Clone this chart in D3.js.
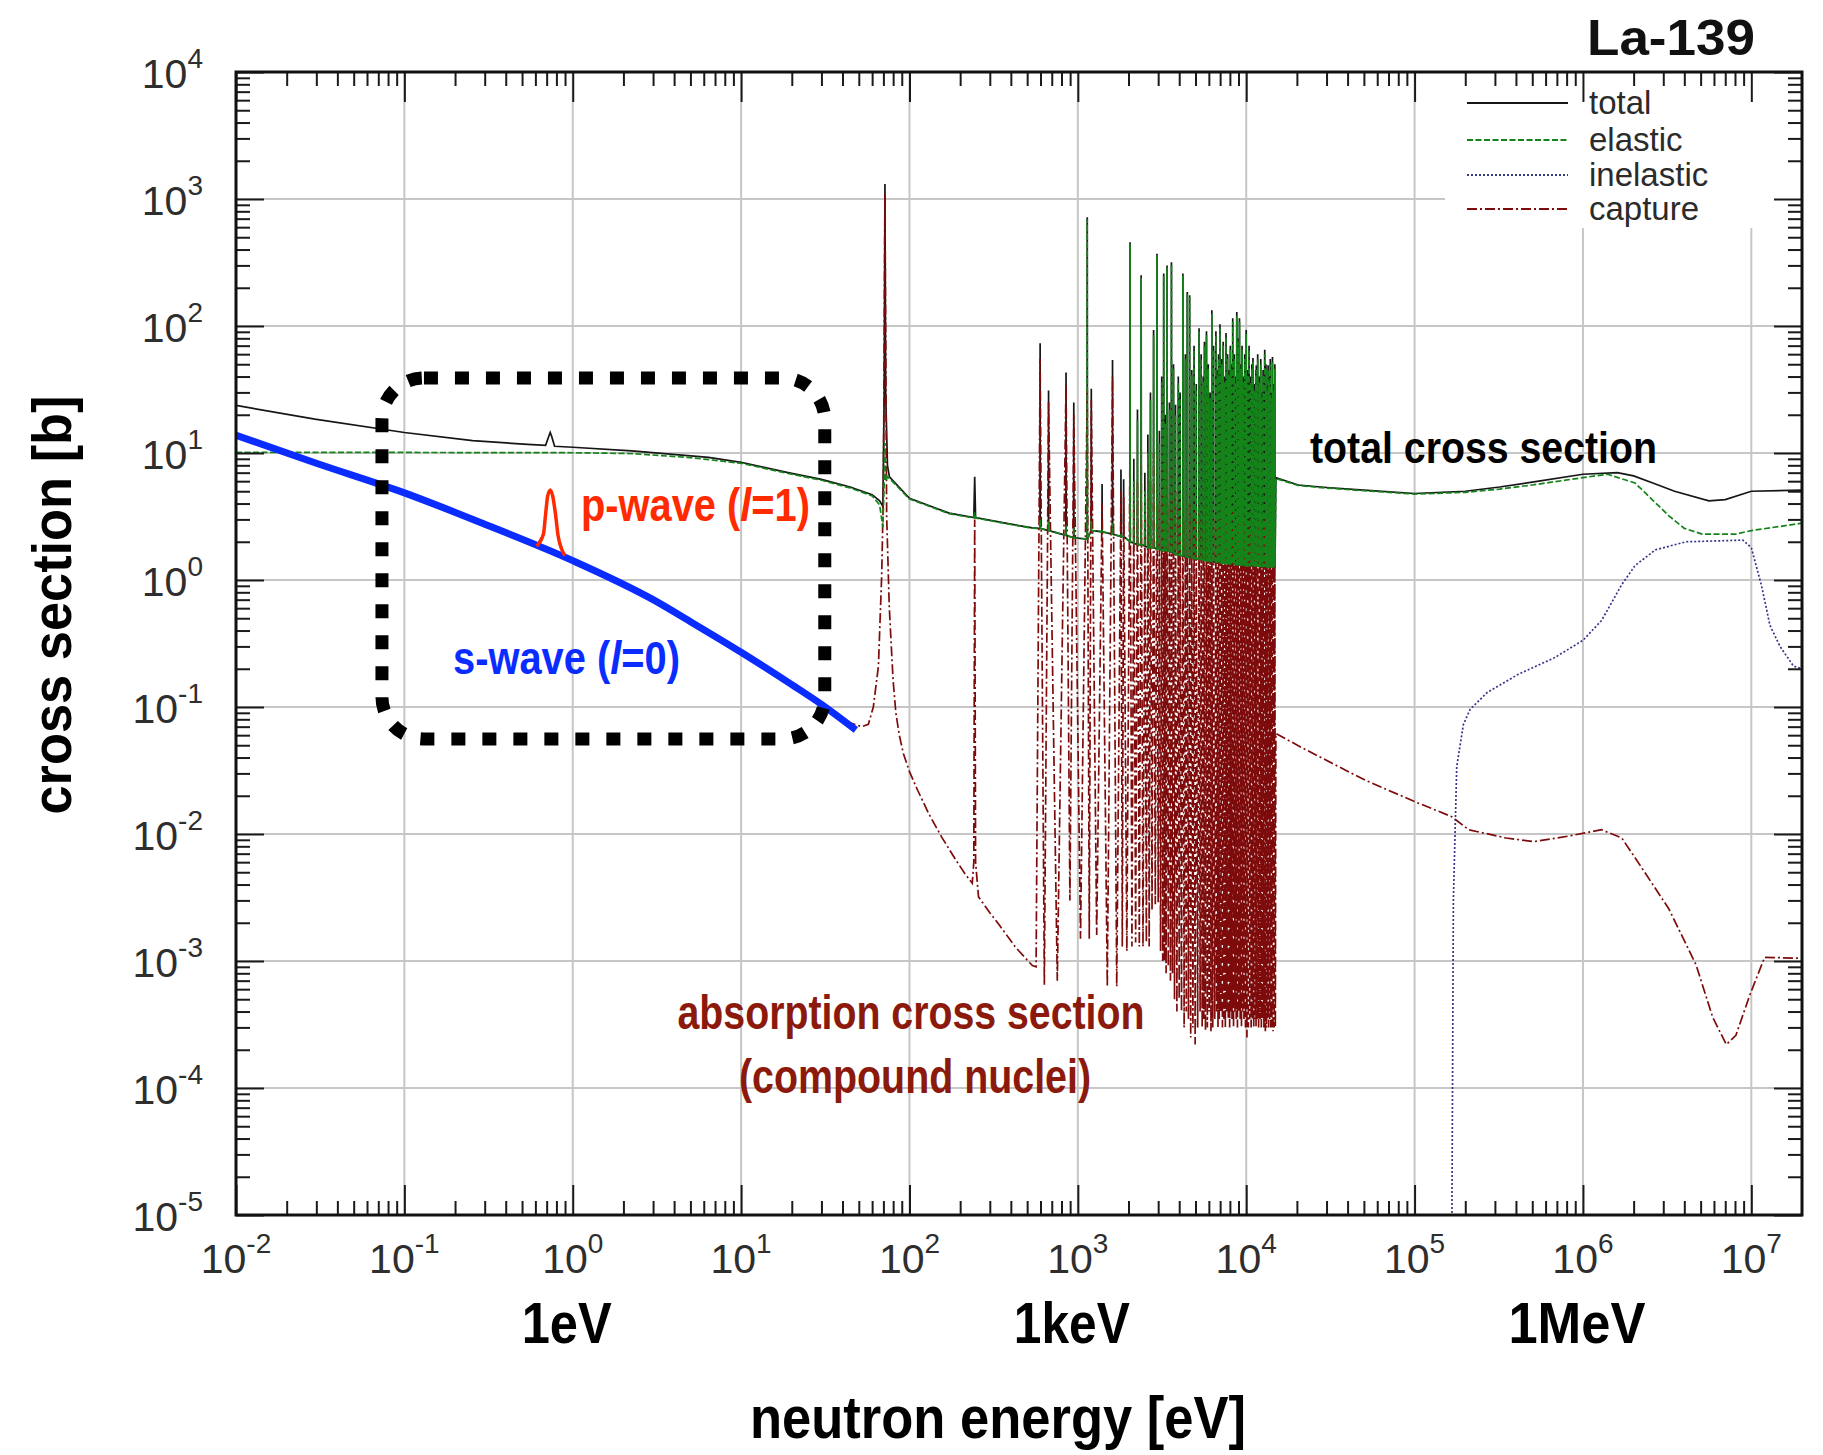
<!DOCTYPE html>
<html>
<head>
<meta charset="utf-8">
<title>La-139 cross sections</title>
<script src="https://cdn.jsdelivr.net/npm/d3@7"></script>
<style>
  body { margin: 0; background: #fff; }
  svg { display: block; font-family: "Liberation Sans", Arial, Helvetica, sans-serif; }
</style>
</head>
<body>
<svg width="1823" height="1455"></svg>
<script>
// values: energy in eV, cross section in barn
const xDecades = [-2, -1, 0, 1, 2, 3, 4, 5, 6, 7];
const yDecades = [-5, -4, -3, -2, -1, 0, 1, 2, 3, 4];
const energyNames = ['1eV', '1keV', '1MeV'];
const energyNameValues = [1, 1e3, 1e6];
const legendNames = ['total', 'elastic', 'inelastic', 'capture'];

// smooth parts below the resolved resonances (incl. 0.73 eV p-wave, 72 eV and 244 eV levels)
const totalLow = [[0.01,23.7],[0.0294,18.5],[0.1,14.5],[0.254,12.5],[0.54,11.7],[0.69,11.5],[0.72,13.5],[0.735,14.5],[0.75,13.5],[0.78,11.3],
  [1,11.1],[2.24,10.4],[6.4,9.25],[10,8.45],[19,7.0],[30,6.2],[44.4,5.4],[60,4.7],[66.5,4.2],[69.5,3.8],[70.8,30],[71.5,1310],[72.2,30],
  [74,8],[76,6.5],[100,4.4],[172,3.36],[241,3.1],[244,6.5],[247,3.1],[400,2.75],[537,2.57],[590,2.55]];
const elasticLow = [[0.01,10.1],[0.1,10.1],[1,10.05],[2.24,9.9],[5,9.2],[10,8.3],[19,6.9],[30,6.1],[44.4,5.3],[60,4.6],[66.5,3.9],
  [69.5,2.6],[70.8,6],[71.5,12],[72.2,6],[74,6.5],[76,6.3],[100,4.35],[172,3.33],[241,3.08],[244,3.4],[247,3.08],[400,2.74],[537,2.56],[590,2.54]];
const captureLow = [[0.01,13.8],[0.03,8.3],[0.1,4.85],[0.3,2.75],[0.61,1.85],[0.67,2.3],[0.69,3.3],[0.71,4.6],[0.735,5.1],[0.76,4.6],
  [0.79,3.3],[0.82,2.2],[0.9,1.5],[1,1.42],[3,0.7],[5,0.47],[10,0.27],[20,0.15],[30,0.105],[44.4,0.075],[52,0.07],[57,0.073],[61,0.1],
  [65.4,0.21],[68.4,1.1],[70,5],[71.5,1100],[73.2,3.2],[75.8,0.63],[78,0.3],[80,0.16],[83,0.09],[87,0.06],[92,0.043],[100,0.031],
  [112,0.022],[130,0.0145],[155,0.0095],[185,0.0065],[215,0.0048],[236,0.0041],[241,0.006],[244,3.0],[247,0.006],[257,0.0032],
  [300,0.0024],[339,0.00195],[427,0.00128],[537,0.00092],[565,0.0009]];

// resolved resonances: [energy, total base, total peak, elastic peak, capture peak, capture valley after]
const resonances = [
  [597,2.55,73,3,55,6.5e-4],[670,2.45,31,2.9,25,7e-4],[851,2.25,43,2.7,35,3e-3],[946,2.15,25,2.6,20,1.5e-3],
  [1137,2.1,718,690,32,1.5e-3],[1202,2.45,32,2.9,26,1.6e-3],[1393,2.4,5.7,2.5,4,6.3e-4],[1607,2.3,54,2.8,40,6.3e-4],
  [1803,2.2,7.4,2.3,5,1.3e-3],[1871,2.2,6.2,2.2,4.5,1.2e-3],[2042,2.0,457,440,15,1.3e-3],[2150,1.95,9,6,4,1.4e-3],
  [2260,1.9,22,18,6,1.3e-3],[2377,1.9,251,240,12,1.3e-3],[2500,1.85,7,5,3,1.4e-3],[2606,1.8,14,10,8,1.3e-3],
  [2700,1.8,30,26,6,2.5e-3],[2818,1.8,93,85,10,2.8e-3],[2951,1.75,371,360,12,2.9e-3],[3050,1.75,15,12,4,1.2e-3],
  [3150,1.72,40,36,5,1e-3],[3236,1.7,259,250,10,1e-3],[3300,1.7,20,17,4,8e-4],[3388,1.7,300,290,9,9e-4],
  [3500,1.68,25,22,4,7e-4],[3597,1.65,317,305,8,8e-4],[3700,1.62,50,46,5,5e-4],[3802,1.6,24,20,5,4e-4],
  [3950,1.58,40,36,4,5e-4],[4050,1.56,30,27,3,4e-4],[4207,1.55,259,250,6,3e-4],[4350,1.53,60,55,3,4e-4],
  [4467,1.52,185,178,5,3.5e-4],[4613,1.5,175,168,4,2.5e-4],[4750,1.5,45,41,3,3e-4],[4900,1.48,70,65,3.5,2.2e-4],
  [5050,1.47,35,31,3,3e-4],[5248,1.46,96,90,3.5,4e-4],[5400,1.45,60,55,3,3e-4],[5550,1.44,40,36,2.5,3.5e-4],
  [5650,1.43,75,70,3,2.8e-4],[5808,1.42,91,85,3.5,3e-4],[5950,1.41,50,46,3,4e-4],[6100,1.4,30,27,2.5,2.8e-4],
  [6252,1.4,133,125,3.5,3e-4],[6400,1.39,70,65,3,3.5e-4],[6607,1.38,91,85,3,4e-4],[6750,1.38,45,41,2.5,3e-4],
  [6850,1.37,60,55,3,3.5e-4],[6982,1.37,103,96,3.5,4e-4],[7150,1.36,55,50,3,3e-4],[7300,1.36,75,70,3,3.5e-4],
  [7450,1.35,40,36,2.5,3e-4],[7586,1.35,88,82,3,4e-4],[7750,1.35,60,55,3,3.5e-4],[7900,1.34,45,41,2.5,3e-4],
  [8050,1.34,70,65,3,4e-4],[8150,1.34,50,46,2.5,3.5e-4],[8318,1.33,115,108,3.5,3e-4],[8500,1.33,60,55,3,4e-4],
  [8650,1.33,40,36,2.5,3.5e-4],[8790,1.32,129,120,3.5,3e-4],[8950,1.32,80,75,3,4e-4],[9120,1.32,115,108,3,3.5e-4],
  [9300,1.31,50,46,2.5,3e-4],[9450,1.31,70,65,3,4e-4],[9600,1.31,40,36,2.5,3.5e-4],[9800,1.3,60,55,3,3e-4],
  [10000,1.3,93,87,3,2.5e-4],[10200,1.3,45,41,2.5,3e-4],[10400,1.3,70,65,3,3.5e-4],[10600,1.3,40,36,2.5,3e-4],
  [10800,1.3,50,46,2.5,3.5e-4],[10965,1.29,56,52,3,3e-4],[11200,1.29,35,31,2.5,3.5e-4],[11400,1.29,45,41,2.5,3e-4],
  [11480,1.29,49,45,2.5,3.5e-4],[11700,1.29,60,55,3,3e-4],[12000,1.28,40,36,2.5,3.5e-4],[12200,1.28,55,50,2.5,3e-4],
  [12400,1.28,30,27,2,3.5e-4],[12600,1.28,45,41,2.5,3e-4],[12882,1.28,65,60,3,2.8e-4],[13100,1.28,50,46,2.5,3e-4],
  [13300,1.27,35,31,2.5,3.5e-4],[13490,1.27,49,45,2.5,3e-4],[13700,1.27,40,36,2.5,3.5e-4],[13900,1.27,55,50,2.5,3e-4],
  [14100,1.27,30,27,2,3e-4],[14322,1.27,57,52,3,2.8e-4],[14550,1.27,35,31,2.5,3e-4],[14791,1.27,50,46,2.5,3e-4]];

// unresolved / fast region
const totalHigh = [[1.5e4,6.4],[2.04e4,5.6],[3e4,5.35],[5e4,5.1],[1e5,4.8],[2e5,5.0],[3.2e5,5.4],[5e5,5.9],[1e6,6.8],
  [1.6e6,7.0],[2e6,6.6],[2.6e6,5.8],[3.5e6,5.0],[5.6e6,4.2],[7e6,4.3],[1e7,5.0],[2e7,5.1]];
const elasticHigh = [[1.5e4,6.3],[2.04e4,5.55],[3e4,5.3],[5e4,5.05],[1e5,4.75],[2e5,4.9],[3.2e5,5.2],[5e5,5.6],[1e6,6.4],
  [1.4e6,6.8],[2.04e6,5.8],[3.24e6,3.2],[4e6,2.55],[5.1e6,2.3],[8.1e6,2.3],[1e7,2.45],[2e7,2.8]];
const captureHigh = [[1.5e4,0.062],[2.04e4,0.0495],[3.24e4,0.036],[5.1e4,0.0265],[1e5,0.018],[1.66e5,0.0137],[2.1e5,0.0108],
  [3.5e5,0.0093],[5.1e5,0.0087],[8.1e5,0.0096],[1.29e6,0.0108],[1.7e6,0.0093],[2.04e6,0.0065],[3.24e6,0.00257],[4.7e6,0.00093],
  [5.9e6,0.00036],[7.1e6,0.00022],[8.1e6,0.00026],[9.8e6,0.00054],[1.2e7,0.00107],[2e7,0.00105]];
const inelastic = [[1.64e5,1e-7],[1.7e5,3e-3],[1.78e5,0.034],[1.95e5,0.073],[2.14e5,0.096],[2.7e5,0.13],[4.1e5,0.18],
  [6.8e5,0.245],[1e6,0.335],[1.29e6,0.48],[1.7e6,0.92],[2.04e6,1.3],[2.7e6,1.73],[4.1e6,2.0],[8.9e6,2.06],[1e7,1.8],
  [1.15e7,0.9],[1.29e7,0.44],[1.48e7,0.3],[1.78e7,0.21],[2e7,0.2]];

// annotation overlays
const sWave = [[0.01,13.8],[0.03,8.3],[0.1,4.85],[0.3,2.75],[1,1.42],[3,0.7],[5,0.47],[10,0.27],[20,0.15],[30,0.105],[48,0.066]];
const pWave = [[0.61,1.85],[0.67,2.3],[0.69,3.3],[0.71,4.6],[0.735,5.1],[0.76,4.6],[0.79,3.3],[0.82,2.2],[0.9,1.55]];
const boxEnergy = [0.0736, 31.4];
const boxSigma = [0.056, 39];

const svg = d3.select('svg');
const width = 1823, height = 1455;
const margin = {top: 72, right: 21, bottom: 240, left: 236};
const innerW = width - margin.left - margin.right;
const innerH = height - margin.top - margin.bottom;

const x = d3.scaleLog().domain([1e-2, 2e7]).range([0, innerW]);
const y = d3.scaleLog().domain([1e-5, 1e4]).range([innerH, 0]);

const g = svg.append('g').attr('transform', `translate(${margin.left},${margin.top})`);

svg.append('defs').append('clipPath').attr('id', 'plotclip')
  .append('rect').attr('width', innerW).attr('height', innerH);

// grid
const gridX = xDecades.filter(d => d > -2).map(d => Math.pow(10, d));
const gridY = yDecades.filter(d => d > -5 && d < 4).map(d => Math.pow(10, d));
g.selectAll('.gx').data(gridX).enter().append('line')
  .attr('x1', d => x(d)).attr('x2', d => x(d)).attr('y1', 0).attr('y2', innerH)
  .attr('stroke', '#c6c6c6').attr('stroke-width', 2);
g.selectAll('.gy').data(gridY).enter().append('line')
  .attr('x1', 0).attr('x2', innerW).attr('y1', d => y(d)).attr('y2', d => y(d))
  .attr('stroke', '#c6c6c6').attr('stroke-width', 2);

// legend background hides grid behind it
g.append('rect').attr('x', 1209).attr('y', 2).attr('width', innerW - 1211).attr('height', 154).attr('fill', '#fff');

// series paths
const spikeW = 0.002;
const totalPts = totalLow.concat(
  resonances.flatMap(r => [[r[0] * (1 - spikeW), r[1]], [r[0], r[2]], [r[0] * (1 + spikeW), r[1]]]), totalHigh);
const elasticPts = elasticLow.concat(
  resonances.flatMap(r => [[r[0] * (1 - spikeW), r[1]], [r[0], r[3]], [r[0] * (1 + spikeW), r[1]]]), elasticHigh);
const capturePts = captureLow.concat(
  resonances.flatMap((r, i) => {
    const next = i < resonances.length - 1 ? resonances[i + 1][0] : captureHigh[0][0];
    return [[r[0], r[4]], [Math.sqrt(r[0] * next), r[5]]];
  }), captureHigh);

const line = d3.line().x(d => x(d[0])).y(d => y(Math.max(d[1], 1e-8)));
const smooth = d3.line().x(d => x(d[0])).y(d => y(d[1])).curve(d3.curveMonotoneX);

const plot = g.append('g').attr('clip-path', 'url(#plotclip)');
const styles = {
  total:     {color: '#161616', dash: null},
  elastic:   {color: '#14841a', dash: '6,2.5'},
  inelastic: {color: '#35358a', dash: '2,2'},
  capture:   {color: '#7e0b0b', dash: '10,3,2,3'}
};
const seriesPts = {total: totalPts, elastic: elasticPts, inelastic: inelastic, capture: capturePts};
// elastic last so the resonance tops read green, as in the original
['total', 'capture', 'inelastic', 'elastic'].forEach(name => {
  plot.append('path').attr('d', line(seriesPts[name]))
    .attr('fill', 'none').attr('stroke', styles[name].color).attr('stroke-width', 1.7)
    .attr('stroke-dasharray', styles[name].dash);
});

// annotations: s-wave line, p-wave peak, dotted box
plot.append('path').attr('d', smooth(sWave)).attr('fill', 'none')
  .attr('stroke', '#0a2cff').attr('stroke-width', 7);
plot.append('path').attr('d', smooth(pWave)).attr('fill', 'none')
  .attr('stroke', '#ff2a00').attr('stroke-width', 3.5);
g.append('rect')
  .attr('x', x(boxEnergy[0])).attr('y', y(boxSigma[1]))
  .attr('width', x(boxEnergy[1]) - x(boxEnergy[0])).attr('height', y(boxSigma[0]) - y(boxSigma[1]))
  .attr('rx', 42).attr('fill', 'none').attr('stroke', '#000').attr('stroke-width', 13)
  .attr('stroke-dasharray', '14,17');

// axes: inward ticks on all sides
const minorX = [], minorY = [];
xDecades.forEach(d => { for (let k = 2; k < 10; k++) { const v = k * Math.pow(10, d); if (v < 2e7) minorX.push(v); } });
yDecades.forEach(d => { for (let k = 2; k < 10; k++) { if (d < 4) minorY.push(k * Math.pow(10, d)); } });
const majorX = xDecades.map(d => Math.pow(10, d));
const majorY = yDecades.map(d => Math.pow(10, d));

function tickAxis(axis, vals, size, transform) {
  const a = g.append('g').attr('transform', transform)
    .call(axis.tickValues(vals).tickSize(-size).tickFormat(''));
  a.select('.domain').remove();
  a.selectAll('line').attr('stroke', '#1a1a1a').attr('stroke-width', 2);
}
tickAxis(d3.axisBottom(x), majorX, 30, `translate(0,${innerH})`);
tickAxis(d3.axisBottom(x), minorX, 14, `translate(0,${innerH})`);
tickAxis(d3.axisTop(x), majorX, 30, 'translate(0,0)');
tickAxis(d3.axisTop(x), minorX, 14, 'translate(0,0)');
tickAxis(d3.axisLeft(y), majorY, 28, 'translate(0,0)');
tickAxis(d3.axisLeft(y), minorY, 14, 'translate(0,0)');
tickAxis(d3.axisRight(y), majorY, 28, `translate(${innerW},0)`);
tickAxis(d3.axisRight(y), minorY, 14, `translate(${innerW},0)`);

g.append('rect').attr('width', innerW).attr('height', innerH)
  .attr('fill', 'none').attr('stroke', '#111').attr('stroke-width', 3);

// tick labels 10^n
function powLabel(t, d) {
  t.append('tspan').text('10');
  t.append('tspan').attr('dy', -20).attr('font-size', 28).text(d);
}
xDecades.forEach(d => {
  const t = g.append('text').attr('x', x(Math.pow(10, d))).attr('y', innerH + 58)
    .attr('text-anchor', 'middle').attr('font-size', 41).attr('fill', '#2e2e2e');
  powLabel(t, d);
});
yDecades.forEach(d => {
  const t = g.append('text').attr('x', -33).attr('y', y(Math.pow(10, d)) + 16)
    .attr('text-anchor', 'end').attr('font-size', 41).attr('fill', '#2e2e2e');
  powLabel(t, d);
});

// energy names under the axis
const nameWidths = [90, 116, 137];
energyNames.forEach((n, i) => {
  g.append('text').attr('x', x(energyNameValues[i]) - 6).attr('y', innerH + 128)
    .attr('text-anchor', 'middle').attr('font-size', 58).attr('font-weight', 'bold')
    .attr('textLength', nameWidths[i]).attr('lengthAdjust', 'spacingAndGlyphs').text(n);
});

// axis titles
svg.append('text').attr('x', 998).attr('y', 1438).attr('text-anchor', 'middle')
  .attr('font-size', 60).attr('font-weight', 'bold')
  .attr('textLength', 496).attr('lengthAdjust', 'spacingAndGlyphs').text('neutron energy [eV]');
svg.append('text').attr('transform', 'translate(71,605) rotate(-90)').attr('text-anchor', 'middle')
  .attr('font-size', 56).attr('font-weight', 'bold')
  .attr('textLength', 419).attr('lengthAdjust', 'spacingAndGlyphs').text('cross section [b]');
svg.append('text').attr('x', 1755).attr('y', 55).attr('text-anchor', 'end')
  .attr('font-size', 50).attr('font-weight', 'bold').attr('fill', '#111')
  .attr('textLength', 168).attr('lengthAdjust', 'spacingAndGlyphs').text('La-139');

// legend
legendNames.forEach((name, i) => {
  const ly = [31, 68, 103, 137][i];
  g.append('line').attr('x1', 1231).attr('x2', 1332).attr('y1', ly).attr('y2', ly)
    .attr('stroke', styles[name].color).attr('stroke-width', 2).attr('stroke-dasharray', styles[name].dash);
  g.append('text').attr('x', 1353).attr('y', ly + 11).attr('font-size', 33).attr('fill', '#2b2b2b').text(name);
});

// annotation labels
svg.append('text').attr('x', 1310).attr('y', 463).attr('font-size', 45).attr('font-weight', 'bold')
  .attr('textLength', 347).attr('lengthAdjust', 'spacingAndGlyphs').text('total cross section');

// condensed label with an italic l, squeezed with a horizontal scale
function waveLabel(xp, yp, len, color, pre, lval, post) {
  const t = svg.append('text').attr('font-size', 46).attr('font-weight', 'bold').attr('fill', color);
  t.append('tspan').text(pre);
  t.append('tspan').attr('font-style', 'italic').text(lval);
  t.append('tspan').text(post);
  const sx = len / t.node().getComputedTextLength();
  t.attr('transform', `translate(${xp},${yp}) scale(${sx},1)`);
}
waveLabel(581, 521, 229, '#ff2a00', 'p-wave (', 'l', '=1)');
waveLabel(453, 674, 227, '#0a2cff', 's-wave (', 'l', '=0)');

svg.append('text').attr('x', 911).attr('y', 1029).attr('text-anchor', 'middle')
  .attr('font-size', 48).attr('font-weight', 'bold').attr('fill', '#8b1a0c')
  .attr('textLength', 467).attr('lengthAdjust', 'spacingAndGlyphs').text('absorption cross section');
svg.append('text').attr('x', 915).attr('y', 1093).attr('text-anchor', 'middle')
  .attr('font-size', 48).attr('font-weight', 'bold').attr('fill', '#8b1a0c')
  .attr('textLength', 352).attr('lengthAdjust', 'spacingAndGlyphs').text('(compound nuclei)');
</script>
</body>
</html>
